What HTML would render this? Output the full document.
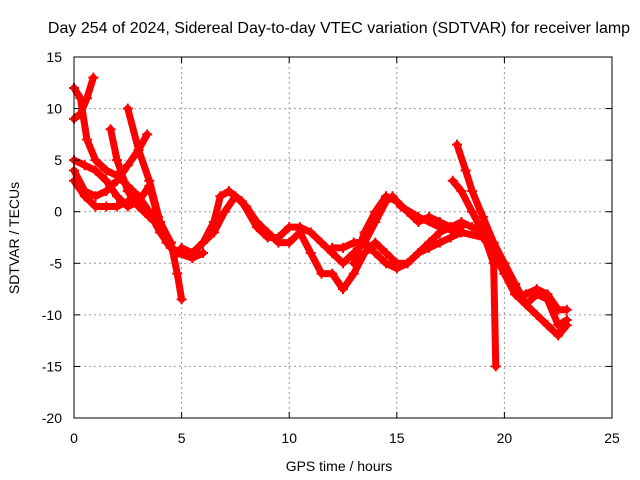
<!DOCTYPE html>
<html><head><meta charset="utf-8"><style>
body{margin:0;background:#fff}
svg{display:block;font-family:"Liberation Sans",sans-serif}
</style></head><body>
<svg id="chart" width="640" height="480">
<text x="339" y="33" font-size="16" text-anchor="middle">Day 254 of 2024, Sidereal Day-to-day VTEC variation (SDTVAR) for receiver lamp</text>
<g id="grid"></g>
<g id="series"></g>
<rect x="74" y="57" width="538" height="361" fill="none" stroke="#000"/>
<g id="ticks" font-size="14"></g>
<text x="339" y="471" font-size="14" text-anchor="middle">GPS time / hours</text>
<text transform="translate(19,238) rotate(-90)" font-size="14" text-anchor="middle">SDTVAR / TECUs</text>
</svg>
<script>
const xTicks=[0,5,10,15,20,25];
const yTicks=[15,10,5,0,-5,-10,-15,-20];
const s1=[[0,12],[0.3,11],[0.6,7],[1,5],[1.5,4],[2,3.5],[2.5,2.5],[3,1.5],[3.5,0],[4,-2],[4.5,-3.5],[5,-4],[5.5,-4],[6,-3],[6.5,-1],[6.8,1.5],[7.2,2],[7.8,1],[8.5,-1.5],[9,-2.5],[9.5,-2.5],[10,-1.5],[10.5,-1.5],[11,-2],[11.5,-3],[12,-4],[12.5,-5],[13,-4],[13.5,-3],[14,-1],[14.5,1],[14.8,1.5],[15.2,0.5],[16,-0.5],[17,-1.5],[18,-2],[19,-2.5],[19.5,-4],[20,-6],[20.5,-8],[21,-9],[21.5,-8],[22,-8.5],[22.5,-11],[22.9,-10.5]];
const s2=[[0,9],[0.3,9.5],[0.6,11],[0.9,13]];
const s3=[[0,5],[0.5,4.5],[1,4],[1.5,3],[2,1.5],[2.5,0.5],[3,1],[3.5,2.5],[3.9,-0.5],[4.3,-3],[4.8,-4],[5.5,-4.5],[6,-4]];
const s4=[[2.5,10],[3,6],[3.5,3],[4,-1],[4.5,-3],[4.8,-6],[5,-8.5]];
const s5=[[0,4],[0.5,2],[1,1.5],[1.5,2],[2,3],[2.5,4.5],[3,6],[3.4,7.5]];
const s6=[[1.7,8],[2,5],[2.5,2],[3,0.5],[3.5,-0.5],[4,-1.5],[4.5,-3]];
const s7=[[0,3],[0.5,1.5],[1,0.5],[1.5,0.5],[2,0.5],[2.5,1],[3,1],[3.5,0],[4,-2]];
const s8=[[5,-3.5],[5.5,-4],[6,-3],[6.5,-2],[7,0],[7.5,1.5],[8,0.5],[8.5,-1],[9,-2],[9.5,-3],[10,-3],[10.5,-2],[11,-4],[11.5,-6],[12,-6],[12.5,-7.5],[13,-6],[13.5,-4],[14,-3],[14.5,-4],[15,-5],[15.5,-5],[16,-4],[16.5,-3],[17,-2],[17.5,-1.5],[18,-1],[18.5,-1.5],[19,-2],[19.5,-5],[19.6,-15]];
const s9=[[17.8,6.5],[18.2,4],[18.5,2],[19,-0.5],[19.5,-3],[20,-5],[20.5,-7],[21,-9],[21.5,-10],[22,-11],[22.5,-12],[22.9,-11]];
const s10=[[17.6,3],[18,2],[18.5,0],[19,-2],[19.5,-3.5],[20,-6],[20.5,-8],[21,-8],[21.5,-7.5],[22,-8],[22.5,-9.5],[22.9,-9.5]];
const s11=[[12,-3.5],[12.5,-3.5],[13,-3],[13.5,-3],[14,-4],[14.5,-5],[15,-5.5],[15.5,-5],[16,-4],[16.5,-3.5],[17,-3],[17.5,-2.5],[18,-2]];
const s12=[[13,-5],[13.5,-2],[14,0],[14.5,1.5],[15,1],[15.5,0],[16,-1],[16.5,-0.5],[17,-1],[17.5,-1.5],[18,-1.5]];
const allSeries=[s1,s2,s3,s4,s5,s6,s7,s8,s9,s10,s11,s12];
const X=v=>74+v*538/25, Y=v=>57+(15-v)*361/35;
const NS="http://www.w3.org/2000/svg";
const grid=document.getElementById('grid'),ticks=document.getElementById('ticks'),ser=document.getElementById('series');
function mk(t,a,p){const e=document.createElementNS(NS,t);for(const k in a)e.setAttribute(k,a[k]);p.appendChild(e);return e;}
xTicks.forEach(v=>{const x=X(v);
 if(v>0&&v<25){const g=mk('line',{x1:x,x2:x,y1:57,y2:418,stroke:'#999','stroke-dasharray':'2,3'},grid);
 
 }
 mk('line',{x1:x,x2:x,y1:418,y2:412,stroke:'#000'},ticks);mk('line',{x1:x,x2:x,y1:57,y2:63,stroke:'#000'},ticks);
 const t=mk('text',{x:x,y:443,'text-anchor':'middle'},ticks);t.textContent=v;
 
 });
yTicks.forEach(v=>{const y=Y(v);
 if(v<15&&v>-20){const g=mk('line',{x1:74,x2:612,y1:y,y2:y,stroke:'#999','stroke-dasharray':'2,3'},grid);
 
 }
 mk('line',{x1:74,x2:80,y1:y,y2:y,stroke:'#000'},ticks);mk('line',{x1:612,x2:606,y1:y,y2:y,stroke:'#000'},ticks);
 const t=mk('text',{x:62,y:y+5,'text-anchor':'end'},ticks);t.textContent=v;
 
 });
allSeries.forEach((s,i)=>{
 const p=mk('polyline',{points:s.map(d=>X(d[0])+','+Y(d[1])).join(' '),fill:'none',stroke:'#f00','stroke-width':7,'stroke-linejoin':'round','stroke-linecap':'round'},ser);
 
 
 s.forEach(d=>{const x=X(d[0]),y=Y(d[1]);
  mk('path',{d:`M${x-5},${y}H${x+5}M${x},${y-5}V${y+5}`,stroke:'#f00','stroke-width':2},ser);});
});
</script>
</body></html>
